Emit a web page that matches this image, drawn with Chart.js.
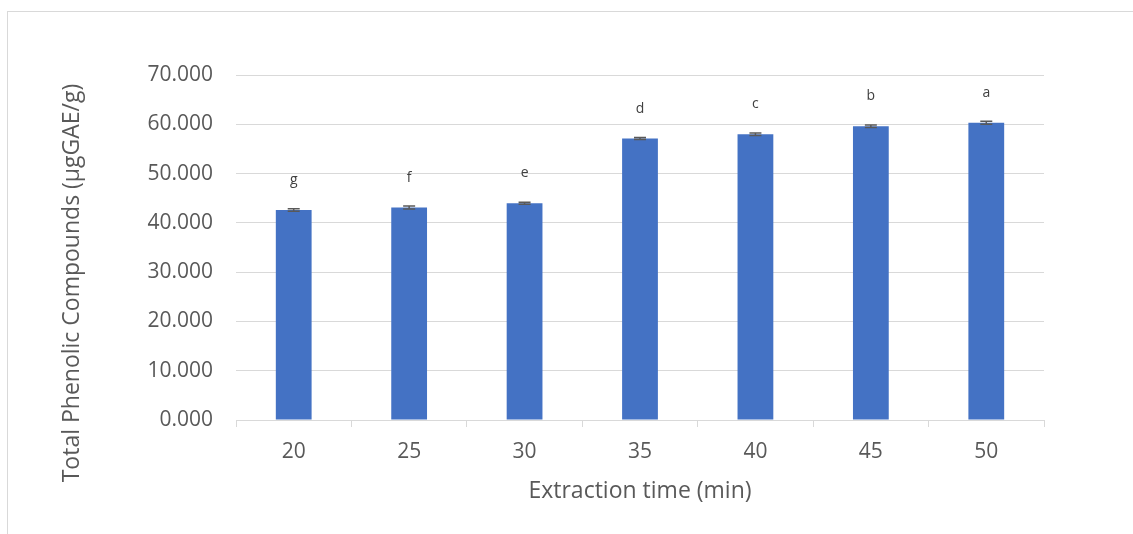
<!DOCTYPE html>
<html>
<head>
<meta charset="utf-8">
<script src="https://cdn.jsdelivr.net/npm/chart.js@4.4.0/dist/chart.umd.min.js"></script>
<style>
  html, body { margin: 0; padding: 0; background: #fff; overflow: hidden; }
  #wrap { position: relative; width: 1133px; height: 534px; }
  #frame { position: absolute; left: 7px; top: 11px; width: 1200px; height: 600px; border: 1px solid #d9d9d9; box-sizing: border-box; }
  canvas { position: absolute; left: 0; top: 0; }
</style>
</head>
<body>
<div id="wrap">
  <div id="frame"></div>
  <canvas id="c" width="1133" height="534"></canvas>
</div>
<script>
// Extraction time (min) vs total phenolic content
const times = ['20', '25', '30', '35', '40', '45', '50'];
const phenolics = [42.6, 43.1, 44.0, 57.1, 58.0, 59.6, 60.3];
const errors = [0.25, 0.3, 0.2, 0.2, 0.25, 0.25, 0.3];
const letters = ['g', 'f', 'e', 'd', 'c', 'b', 'a'];
const yTicks = [0, 10, 20, 30, 40, 50, 60, 70];
const yTitle = 'Total Phenolic Compounds (µgGAE/g)';
const xTitle = 'Extraction time (min)';

const FONT = '"Open Sans", "Liberation Sans", sans-serif';
const TEXT = '#595959';

// error bars, significance letters and the vertical axis title
const barExtras = {
  id: 'barExtras',
  afterDatasetsDraw(chart) {
    const ctx = chart.ctx;
    const y = chart.scales.y;
    const meta = chart.getDatasetMeta(0);
    ctx.save();
    meta.data.forEach((bar, i) => {
      const v = phenolics[i], e = errors[i];
      const yHi = y.getPixelForValue(v + e);
      const yLo = y.getPixelForValue(v - e);
      const x = bar.x;
      ctx.strokeStyle = '#595959';
      ctx.lineWidth = 1.5;
      ctx.beginPath();
      ctx.moveTo(x, yHi); ctx.lineTo(x, yLo);
      ctx.moveTo(x - 6, yHi); ctx.lineTo(x + 6, yHi);
      ctx.moveTo(x - 6, yLo); ctx.lineTo(x + 6, yLo);
      ctx.stroke();
      ctx.fillStyle = '#404040';
      ctx.font = '14px ' + FONT;
      ctx.textAlign = 'center';
      ctx.textBaseline = 'middle';
      ctx.fillText(letters[i], x, y.getPixelForValue(v) - 30);
    });
    ctx.translate(72, 283);
    ctx.rotate(-Math.PI / 2);
    ctx.fillStyle = TEXT;
    ctx.font = '23px ' + FONT;
    ctx.textAlign = 'center';
    ctx.textBaseline = 'middle';
    ctx.fillText(yTitle, 0, 0);
    ctx.restore();
  }
};

new Chart(document.getElementById('c'), {
  type: 'bar',
  data: {
    labels: times,
    datasets: [{
      data: phenolics,
      backgroundColor: '#4472C4',
      borderWidth: 0,
      categoryPercentage: 1,
      barPercentage: 0.31
    }]
  },
  options: {
    responsive: false,
    animation: false,
    devicePixelRatio: 1,
    layout: { padding: { left: 0, top: 75, right: 89, bottom: 0 } },
    plugins: { legend: { display: false }, tooltip: { enabled: false } },
    scales: {
      x: {
        grid: { display: true, drawOnChartArea: false, drawTicks: true, tickLength: 7, color: '#d9d9d9', offset: true },
        border: { color: '#d9d9d9', width: 1 },
        ticks: { color: TEXT, font: { family: FONT, size: 21 }, padding: 12 },
        title: { display: true, text: xTitle, color: TEXT, font: { family: FONT, size: 23 }, padding: { top: 0, bottom: 29 } },
        afterFit(s) { s.height = 114; }
      },
      y: {
        min: 0, max: 70,
        afterBuildTicks(s) { s.ticks = yTicks.map(v => ({ value: v })); },
        grid: { color: '#d9d9d9', drawTicks: false },
        border: { display: false },
        ticks: { color: TEXT, font: { family: FONT, size: 21 }, padding: 23, callback: v => v.toFixed(3) },
        afterFit(s) { s.width = 236; }
      }
    }
  },
  plugins: [barExtras]
});
</script>
</body>
</html>
